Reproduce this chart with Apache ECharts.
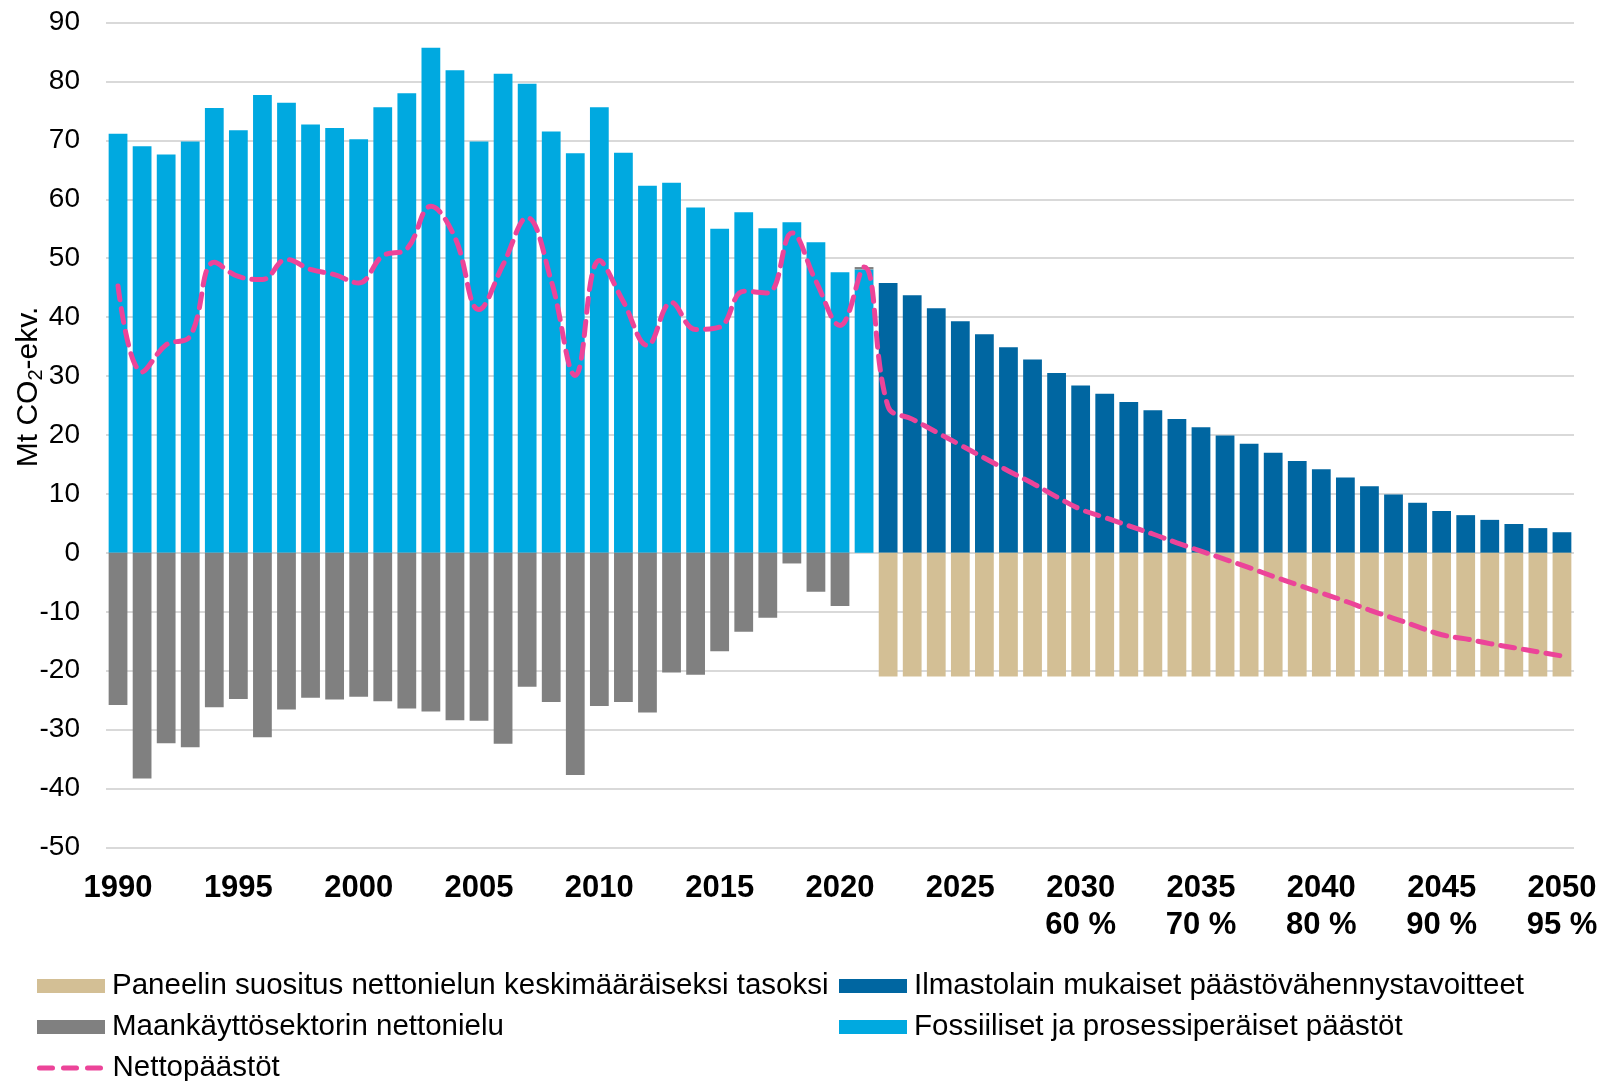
<!DOCTYPE html>
<html>
<head>
<meta charset="utf-8">
<script src="https://cdn.jsdelivr.net/npm/echarts@6/dist/echarts.min.js"></script>
<style>
html,body{margin:0;padding:0;background:#fff;}
#chart{width:1605px;height:1081px;}
</style>
</head>
<body>
<div id="chart"></div>
<script>
const years = ['1990','1991','1992','1993','1994','1995','1996','1997','1998','1999',
'2000','2001','2002','2003','2004','2005','2006','2007','2008','2009',
'2010','2011','2012','2013','2014','2015','2016','2017','2018','2019',
'2020','2021','2022','2023','2024','2025','2026','2027','2028','2029',
'2030','2031','2032','2033','2034','2035','2036','2037','2038','2039',
'2040','2041','2042','2043','2044','2045','2046','2047','2048','2049','2050'];

// 1990-2021
const fossil = [71.1,69.0,67.6,69.8,75.5,71.7,77.7,76.4,72.7,72.1,70.2,75.6,78.0,85.7,81.9,69.8,81.3,79.6,71.5,67.8,75.6,67.9,62.3,62.8,58.6,55.0,57.8,55.1,56.1,52.7,47.6,48.1];
const landUse = [-25.8,-38.3,-32.3,-33.0,-26.2,-24.8,-31.3,-26.6,-24.6,-24.9,-24.4,-25.2,-26.4,-26.9,-28.4,-28.5,-32.4,-22.7,-25.3,-37.7,-26.0,-25.3,-27.1,-20.3,-20.7,-16.7,-13.4,-11.0,-1.8,-6.6,-9.0,0.4];
// 2022-2050
const targets = [45.8,43.7,41.5,39.3,37.1,34.9,32.8,30.5,28.4,27.0,25.6,24.2,22.7,21.3,19.9,18.5,17.0,15.6,14.2,12.8,11.3,9.9,8.5,7.1,6.4,5.6,4.9,4.2,3.5];
const panelSink = [-21,-21,-21,-21,-21,-21,-21,-21,-21,-21,-21,-21,-21,-21,-21,-21,-21,-21,-21,-21,-21,-21,-21,-21,-21,-21,-21,-21,-21];
// 1990-2050
const netEmissions = [45.3,30.7,35.3,36.8,49.3,46.9,46.4,49.8,48.1,47.2,45.8,50.4,51.6,58.8,53.5,41.3,48.9,56.9,46.2,30.1,49.6,42.6,35.2,42.5,37.9,38.3,44.4,44.1,54.3,46.1,38.6,48.5,
24.8,22.7,20.5,18.3,16.1,13.9,11.8,9.5,7.4,6.0,4.6,3.2,1.7,0.3,-1.1,-2.5,-4.0,-5.4,-6.8,-8.2,-9.7,-11.1,-12.5,-13.9,-14.6,-15.4,-16.1,-16.8,-17.5];

const yTicks = {min:-50, max:90, interval:10};
const pctYears = ['2030','2035','2040','2045','2050'];
const pctLabels = ['60 %','70 %','80 %','90 %','95 %'];

const names = {
  panel: 'Paneelin suositus nettonielun keskimääräiseksi tasoksi',
  target: 'Ilmastolain mukaiset päästövähennystavoitteet',
  land: 'Maankäyttösektorin nettonielu',
  fossil: 'Fossiiliset ja prosessiperäiset päästöt',
  net: 'Nettopäästöt'
};

const nHist = fossil.length;
const fossilData = years.map((y,i)=> i < nHist ? fossil[i] : null);
const landData = years.map((y,i)=> i < nHist ? landUse[i] : null);
const targetData = years.map((y,i)=> i >= nHist ? targets[i-nHist] : null);
const panelData = years.map((y,i)=> i >= nHist ? panelSink[i-nHist] : null);

const FONT = 'Liberation Sans, Arial, sans-serif';
const PINK = '#EC4499';
const chart = echarts.init(document.getElementById('chart'), null, {renderer:'canvas'});

const legendText = {fontFamily: FONT, fontSize: 29.5, color: '#000', lineHeight: 32, padding: [0,0,0,2]};
function leg(name, left, top, extra) {
  return Object.assign({
    orient: 'horizontal', left: left, top: top, padding: 0,
    itemWidth: 68, itemHeight: 14, icon: 'rect',
    textStyle: legendText,
    data: [name]
  }, extra || {});
}

chart.setOption({
  animation: false,
  backgroundColor: '#fff',
  grid: {left: 106, right: 31, top: 22.5, bottom: 1081 - 847.5, containLabel: false},
  legend: [
    leg(names.panel, 37, 970),
    leg(names.land, 37, 1011),
    leg(names.net, 37, 1052, {
      icon: null,
      textStyle: {fontFamily: FONT, fontSize: 29.5, color: '#000', lineHeight: 32, padding: [0,0,0,0]},
      lineStyle: {width: 5, color: PINK, type: [13, 11], cap: 'round'},
      data: [{name: names.net, itemStyle: {opacity: 0, color: 'rgba(0,0,0,0)', borderWidth: 0}}]
    }),
    leg(names.target, 839, 970),
    leg(names.fossil, 839, 1011)
  ],
  xAxis: {
    type: 'category',
    data: years,
    boundaryGap: true,
    axisLine: {show: false},
    axisTick: {show: false},
    splitLine: {show: false},
    axisLabel: {
      interval: function(index){ return index % 5 === 0; },
      margin: 22,
      fontFamily: FONT, fontSize: 31, fontWeight: 'bold', color: '#000', lineHeight: 37,
      formatter: function(v){
        const k = pctYears.indexOf(v);
        return k >= 0 ? v + '\n' + pctLabels[k] : v;
      }
    }
  },
  yAxis: {
    type: 'value',
    min: yTicks.min, max: yTicks.max, interval: yTicks.interval,
    axisLine: {show: false},
    axisTick: {show: false},
    axisLabel: {fontFamily: FONT, fontSize: 28, color: '#000', margin: 26},
    splitLine: {lineStyle: {color: '#D9D9D9', width: 2}}
  },
  graphic: [{
    type: 'text',
    x: 29, y: 387,
    rotation: Math.PI/2,
    style: {
      text: '{a|Mt CO}{s|2}{a|-ekv.}',
      align: 'center', verticalAlign: 'middle',
      rich: {
        a: {fontFamily: FONT, fontSize: 30, fill: '#000', lineHeight: 32},
        s: {fontFamily: FONT, fontSize: 20, fill: '#000', lineHeight: 32, padding: [14,0,0,0]}
      }
    }
  }],
  series: [
    {name: names.fossil, type: 'bar', stack: 'total', data: fossilData, barCategoryGap: '22%',
      itemStyle: {color: '#00A9E0'}},
    {name: names.land, type: 'bar', stack: 'total', data: landData,
      itemStyle: {color: '#808080'}},
    {name: names.target, type: 'bar', stack: 'total', data: targetData,
      itemStyle: {color: '#0066A1'}},
    {name: names.panel, type: 'bar', stack: 'total', data: panelData,
      itemStyle: {color: '#D3BF95'}},
    {name: names.net, type: 'line', data: netEmissions, smooth: 0.4, symbol: 'none', showSymbol: false,
      z: 5,
      lineStyle: {color: PINK, width: 5, type: [14, 9], cap: 'round'},
      itemStyle: {color: PINK}}
  ]
});
</script>
</body>
</html>
